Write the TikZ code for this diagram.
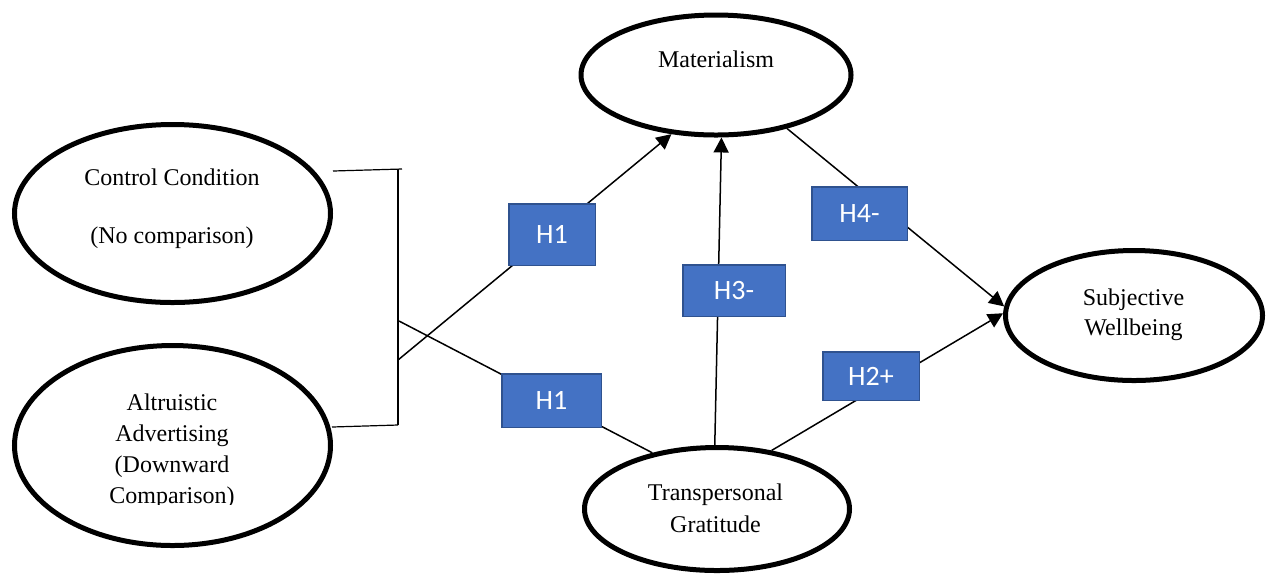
\documentclass[tikz,border=0pt]{standalone}
\usepackage{fontspec}
\setmainfont{Liberation Serif}
\newfontfamily\boxfont{Carlito}
\usetikzlibrary{shapes.geometric,arrows.meta}
\definecolor{hblue}{HTML}{4472C4}
\definecolor{hborder}{HTML}{2F528F}
\begin{document}
\begin{tikzpicture}[x=0.5pt,y=-0.5pt,
 ell/.style={ellipse,draw,line width=2.5pt,inner sep=0pt},
 lbl/.style={font=\fontsize{12}{16}\selectfont,align=center,anchor=base,inner sep=0pt},
 hbox/.style={rectangle,draw=hborder,fill=hblue,line width=0.75pt,text=white,font=\boxfont\fontsize{14}{16}\selectfont,inner sep=0pt},
 conn/.style={line width=0.75pt},
 arr/.style={conn,-{Triangle[length=7.5pt,width=7.5pt]}},
 brk/.style={line width=0.6pt}]
\useasboundingbox (0,0) rectangle (1267,575);

% ellipses
\node[ell,minimum width=135pt,minimum height=60pt] (mat) at (716,75) {};
\node[ell,minimum width=158pt,minimum height=89pt] (cc) at (172.5,213.5) {};
\node[ell,minimum width=158pt,minimum height=100pt] (alt) at (172.5,445.5) {};
\node[ell,minimum width=132.5pt,minimum height=61.5pt] (tr) at (717,509) {};
\node[ell,minimum width=128.5pt,minimum height=65pt] (sw) at (1134,315.5) {};

% texts (base anchor = baseline of the last line)
\node[lbl] (mat-t) at (716,67) {Materialism};
\node[lbl,font=\fontsize{12}{29}\selectfont] (cc-t) at (172,243) {Control Condition\\(No comparison)};
\begin{scope}
\clip (100,380) rectangle (250,504);
\node[lbl,font=\fontsize{12}{15.5}\selectfont] (alt-t) at (172,503) {Altruistic\\Advertising\\(Downward\\Comparison)};
\end{scope}
\node[lbl] (tr-t) at (715.5,532) {Transpersonal\\Gratitude};
\node[lbl,font=\fontsize{12}{15}\selectfont] (sw-t) at (1133.5,335) {Subjective\\Wellbeing};

% bracket
\coordinate (bt1) at (333,171);
\coordinate (bt2) at (402,169);
\coordinate (bv1) at (398,169);
\coordinate (bv2) at (398,425);
\coordinate (bb1) at (332,427);
\draw[brk] (bt1) -- (bt2);
\draw[brk] (bv1) -- (bv2);
\draw[brk] (bb1) -- (bv2);

\coordinate (b1) at (398,360);
\coordinate (b2) at (399,321);

% connectors
\draw[arr] (b1) -- (mat.233.9);
\draw[conn] (b2) -- (tr.139.6);
\draw[arr] (tr.92.8) -- (mat.275);
\draw[arr] (mat.323.5) -- (sw.176.8);
\draw[arr] (tr.47.4) -- (sw.179.4);

% hypothesis boxes
\node[hbox,minimum width=43.25pt,minimum height=30.75pt] (h1a) at (552,234.5) {H1};
\node[hbox,minimum width=47.75pt,minimum height=26.75pt] (h4) at (859.5,213.5) {H4-};
\node[hbox,minimum width=51.25pt,minimum height=25.75pt] (h3) at (734,290.5) {H3-};
\node[hbox,minimum width=49.75pt,minimum height=26.75pt] (h1b) at (551.5,400.5) {H1};
\node[hbox,minimum width=48.25pt,minimum height=24.25pt] (h2) at (871,376) {H2+};
\end{tikzpicture}
\end{document}
